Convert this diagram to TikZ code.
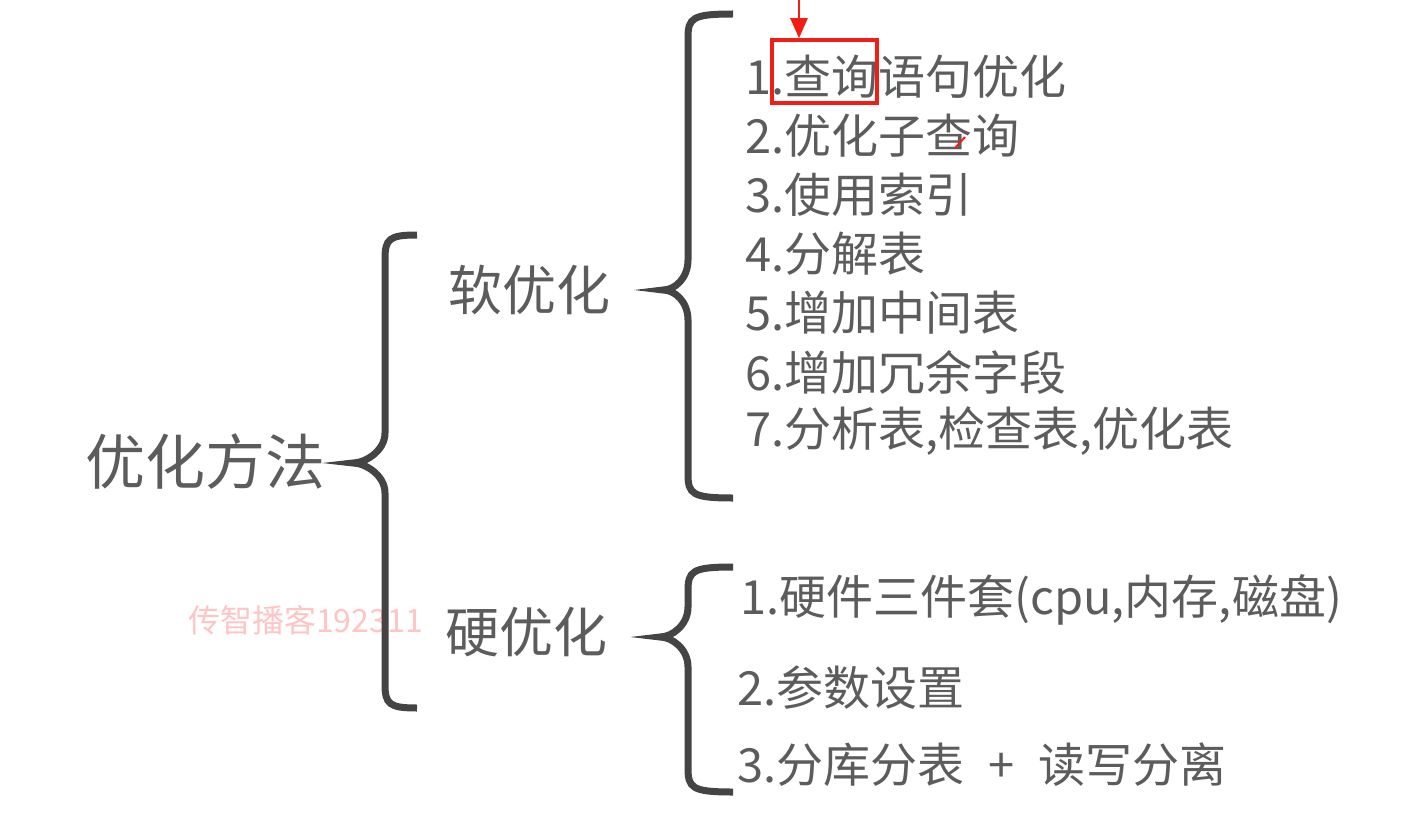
\documentclass[tikz,border=0pt]{standalone}
\usepackage{fontspec}
\setmainfont{Noto Sans CJK SC}
\usepackage{xcolor}
\usepackage{tikz}
\usetikzlibrary{arrows.meta, positioning}
\definecolor{ctext}  {RGB}{92,92,92}
\definecolor{cbrace} {RGB}{68,68,68}
\definecolor{cred}   {RGB}{240,30,20}
\definecolor{cwater} {RGB}{255,196,196}
\tikzset{
  brc/.style={line width=7pt, draw=cbrace},
  item/.style={anchor=west, inner sep=0pt, text=ctext, font=\fontsize{47}{47}\selectfont},
  head/.style={anchor=west, inner sep=0pt, text=ctext, font=\fontsize{54}{54}\selectfont},
  hlbox/.style={draw=cred, line width=3.5pt, minimum width=105pt, minimum height=63pt, inner sep=0pt},
  redarr/.style={-{Triangle[length=20pt,width=17pt]}, line width=2.5pt, draw=cred, fill=cred},
}
% stem x, end x, tip x, top y, tip y, bottom y
\newcommand{\curly}[6]{%
  \draw[brc] (#2,#4) .. controls (#1+4,#4) and (#1,#4+4) .. (#1,#4+24)
    -- (#1,#5-30) .. controls (#1,#5-12) and (#3+12,#5) .. (#3,#5)
    .. controls (#3+12,#5) and (#1,#5+12) .. (#1,#5+30)
    -- (#1,#6-24) .. controls (#1,#6-4) and (#1+4,#6) .. (#2,#6);}

\begin{document}
\begin{tikzpicture}[x=1pt, y=-1pt]
  \useasboundingbox (0,0) rectangle (1412,829);

  % watermark
  \node[anchor=west, inner sep=0pt, text=cwater, font=\fontsize{32}{32}\selectfont]
      at (188,620) (wm) {传智播客192311};

  % ── root ─────────────────────────────────────────────
  \node[anchor=west, inner sep=0pt, text=ctext, font=\fontsize{60}{60}\selectfont]
      at (85,462) (root) {优化方法};
  \curly{385}{417}{353}{235}{463}{708}

  % ── two branches ─────────────────────────────────────
  \node[head] at (448,290) (soft) {软优化};
  \node[head] at (445,632) (hard) {硬优化};
  \curly{688}{733}{663}{14}{290}{498}
  \curly{688}{733}{660}{567}{637}{792}

  % ── soft list ────────────────────────────────────────
  \node[item] at (745,77)  (s1) {1.查询语句优化};
  \node[item] at (745,136) (s2) {2.优化子查询};
  \node[item] at (745,195) (s3) {3.使用索引};
  \node[item] at (745,254) (s4) {4.分解表};
  \node[item] at (745,313) (s5) {5.增加中间表};
  \node[item] at (745,372) (s6) {6.增加冗余字段};
  \node[item] at (745,431) (s7) {7.分析表,检查表,优化表};

  % ── hard list ────────────────────────────────────────
  \node[item] at (740,600) (h1) {1.硬件三件套(cpu,内存,磁盘)};
  \node[item] at (737,688) (h2) {2.参数设置};
  \node[item] at (737,765) (h3) {3.分库分表\hspace{24pt}+\hspace{24pt}读写分离};

  % ── red highlight ────────────────────────────────────
  \node[hlbox] at (824.5,71.5) (qbox) {};
  \coordinate (atop) at (799,0);
  \draw[redarr] (atop) -- (atop |- qbox.north);
  \coordinate (pen) at (965,137);
  \draw[cred, line width=2pt] (pen) -- ++(-10,11);
\end{tikzpicture}
\end{document}
